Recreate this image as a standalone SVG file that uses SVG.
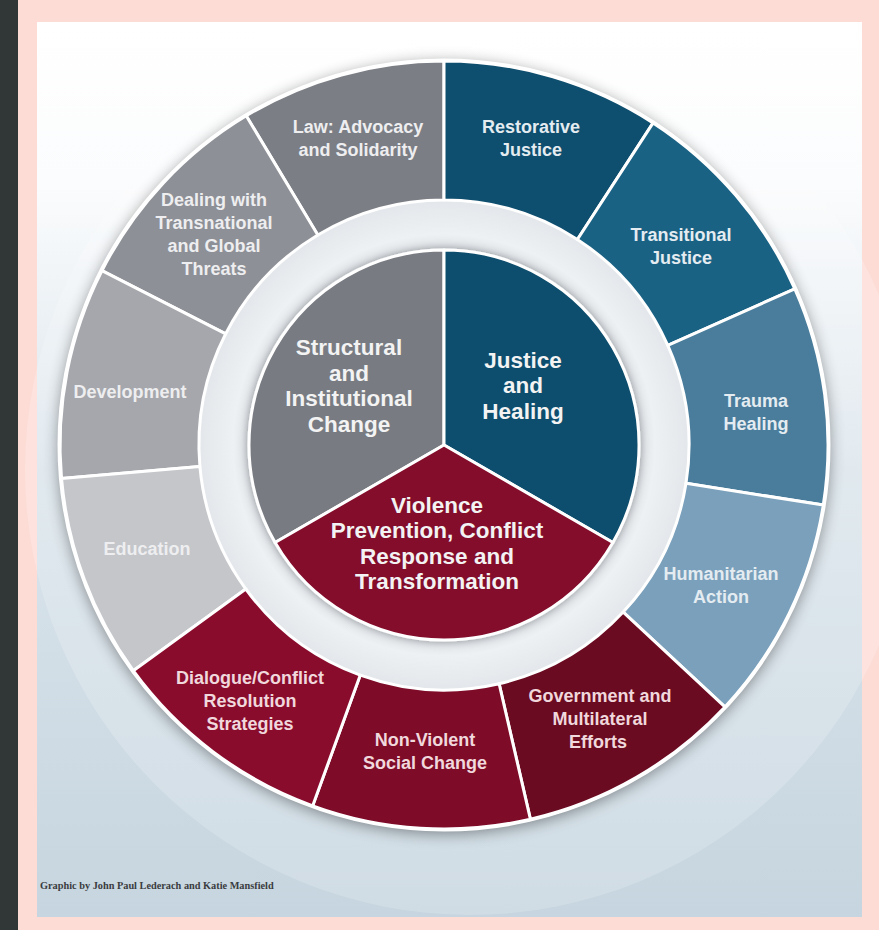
<svg xmlns="http://www.w3.org/2000/svg" width="879" height="930" viewBox="0 0 879 930">
<defs>
<linearGradient id="bg" x1="0" y1="0" x2="0" y2="1">
<stop offset="0" stop-color="#ffffff"/>
<stop offset="0.18" stop-color="#fbfcfd"/>
<stop offset="0.5" stop-color="#dbe5ec"/>
<stop offset="1" stop-color="#c6d5df"/>
</linearGradient>
<radialGradient id="band" cx="444" cy="445" r="245" gradientUnits="userSpaceOnUse">
<stop offset="0.79" stop-color="#d9dee3"/>
<stop offset="0.86" stop-color="#eef1f3"/>
<stop offset="1" stop-color="#e3e7eb"/>
</radialGradient>
<filter id="shadow" x="-20%" y="-20%" width="140%" height="140%">
<feGaussianBlur in="SourceAlpha" stdDeviation="8"/>
<feOffset dx="0" dy="3" result="b"/>
<feComponentTransfer><feFuncA type="linear" slope="0.45"/></feComponentTransfer>
<feMerge><feMergeNode/><feMergeNode in="SourceGraphic"/></feMerge>
</filter>
<filter id="soft" x="-20%" y="-20%" width="140%" height="140%">
<feGaussianBlur in="SourceAlpha" stdDeviation="4"/>
<feComponentTransfer><feFuncA type="linear" slope="0.35"/></feComponentTransfer>
<feMerge><feMergeNode/><feMergeNode in="SourceGraphic"/></feMerge>
</filter>
</defs>
<style>
.seg{stroke:#ffffff;stroke-width:3;stroke-linejoin:round}
.t{font-family:"Liberation Sans",Arial,sans-serif;font-weight:bold;text-anchor:middle}
.o{font-size:18px}
.i{font-size:22.5px}
.tg{fill:#eeeef0}
.tb{fill:#e4ecf1}
.tr{fill:#f0d8dc}
.ti{fill:#f3f3f3}
.foot{font-family:"Liberation Serif","Times New Roman",serif;font-weight:bold;font-size:10.3px;fill:#3a3c40}
</style>
<rect x="0" y="0" width="879" height="930" fill="#fddcd6"/>
<rect x="0" y="0" width="18" height="930" fill="#313636"/>
<rect x="37" y="22" width="825" height="895" fill="url(#bg)"/>
<circle cx="470" cy="470" r="445" fill="#ffffff" opacity="0.18"/>

<g id="wheel-base" filter="url(#shadow)">
<circle cx="444" cy="445" r="385" fill="#ffffff"/>
</g>
<circle cx="444" cy="445" r="245" fill="url(#band)"/>

<g id="outer-structural">
<g id="law"><path class="seg" fill="#7b7e85" d="M246.2,115.8 A384,384 0 0 1 444,61 L444,200 A245,245 0 0 0 317.8,235 Z"/>
<text class="t o tg" x="358" y="133">Law: Advocacy</text><text class="t o tg" x="358" y="156">and Solidarity</text></g>
<g id="dealing"><path class="seg" fill="#8d9096" d="M101.9,270.7 A384,384 0 0 1 246.2,115.8 L317.8,235 A245,245 0 0 0 225.7,333.8 Z"/>
<text class="t o tg" x="214" y="206">Dealing with</text><text class="t o tg" x="214" y="229">Transnational</text><text class="t o tg" x="214" y="252">and Global</text><text class="t o tg" x="214" y="275">Threats</text></g>
<g id="development"><path class="seg" fill="#a5a7ac" d="M61.5,478.5 A384,384 0 0 1 101.9,270.7 L225.7,333.8 A245,245 0 0 0 199.9,466.4 Z"/>
<text class="t o tg" x="130" y="398">Development</text></g>
<g id="education"><path class="seg" fill="#c4c6ca" d="M133.3,670.7 A384,384 0 0 1 61.5,478.5 L199.9,466.4 A245,245 0 0 0 245.8,589 Z"/>
<text class="t o tg" x="147" y="555">Education</text></g>
</g>

<g id="outer-justice">
<g id="restorative"><path class="seg" fill="#0e4e6e" d="M444,61 A384,384 0 0 1 653.1,122.9 L577.4,239.5 A245,245 0 0 0 444,200 Z"/>
<text class="t o tb" x="531" y="133">Restorative</text><text class="t o tb" x="531" y="156">Justice</text></g>
<g id="transitional"><path class="seg" fill="#1a6284" d="M653.1,122.9 A384,384 0 0 1 794.8,288.8 L667.8,345.4 A245,245 0 0 0 577.4,239.5 Z"/>
<text class="t o tb" x="681" y="241">Transitional</text><text class="t o tb" x="681" y="264">Justice</text></g>
<g id="trauma"><path class="seg" fill="#4a7d9c" d="M794.8,288.8 A384,384 0 0 1 823.3,505.1 L686,483.3 A245,245 0 0 0 667.8,345.4 Z"/>
<text class="t o tb" x="756" y="407">Trauma</text><text class="t o tb" x="756" y="430">Healing</text></g>
<g id="humanitarian"><path class="seg" fill="#7aa0bb" d="M823.3,505.1 A384,384 0 0 1 724.9,706.9 L623.2,612.1 A245,245 0 0 0 686,483.3 Z"/>
<text class="t o tb" x="721" y="580">Humanitarian</text><text class="t o tb" x="721" y="603">Action</text></g>
</g>

<g id="outer-violence">
<g id="government"><path class="seg" fill="#6b0b21" d="M724.9,706.9 A384,384 0 0 1 530.4,819.2 L499.1,683.7 A245,245 0 0 0 623.2,612.1 Z"/>
<text class="t o tr" x="600" y="702">Government and</text><text class="t o tr" x="600" y="725">Multilateral</text><text class="t o tr" x="598" y="748">Efforts</text></g>
<g id="nonviolent"><path class="seg" fill="#7e0b28" d="M530.4,819.2 A384,384 0 0 1 312.7,805.8 L360.2,675.2 A245,245 0 0 0 499.1,683.7 Z"/>
<text class="t o tr" x="425" y="746">Non-Violent</text><text class="t o tr" x="425" y="769">Social Change</text></g>
<g id="dialogue"><path class="seg" fill="#8a0c2d" d="M312.7,805.8 A384,384 0 0 1 133.3,670.7 L245.8,589 A245,245 0 0 0 360.2,675.2 Z"/>
<text class="t o tr" x="250" y="684">Dialogue/Conflict</text><text class="t o tr" x="250" y="707">Resolution</text><text class="t o tr" x="250" y="730">Strategies</text></g>
</g>

<g id="inner" filter="url(#soft)">
<g id="structural"><path class="seg" fill="#787b82" d="M444,445 L275.1,542.5 A195,195 0 0 1 444,250 Z"/></g>
<g id="justice"><path class="seg" fill="#0d4e6d" d="M444,445 L444,250 A195,195 0 0 1 612.9,542.5 Z"/></g>
<g id="violence"><path class="seg" fill="#830c2b" d="M444,445 L612.9,542.5 A195,195 0 0 1 275.1,542.5 Z"/></g>
</g>
<g id="inner-labels">
<text class="t i ti" x="349" y="355">Structural</text><text class="t i ti" x="349" y="380.5">and</text><text class="t i ti" x="349" y="406">Institutional</text><text class="t i ti" x="349" y="431.5">Change</text>
<text class="t i ti" x="523" y="367.5">Justice</text><text class="t i ti" x="523" y="393">and</text><text class="t i ti" x="523" y="418.5">Healing</text>
<text class="t i ti" x="437" y="512.5">Violence</text><text class="t i ti" x="437" y="538">Prevention, Conflict</text><text class="t i ti" x="437" y="563.5">Response and</text><text class="t i ti" x="437" y="589">Transformation</text>
</g>
<circle cx="444" cy="445" r="385" fill="none" stroke="#ffffff" stroke-width="3"/>
<g id="connectors"></g>
<text class="foot" x="40" y="889">Graphic by John Paul Lederach and Katie Mansfield</text>
</svg>
